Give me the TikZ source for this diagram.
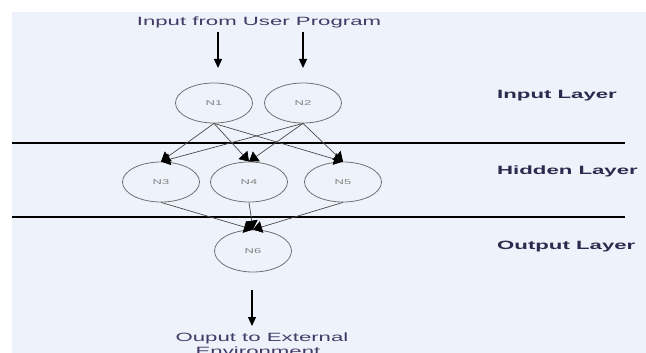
\documentclass[tikz,border=0pt]{standalone}
\usepackage{fontspec}
\usepackage{graphicx}
\setmainfont{Liberation Sans}
\usetikzlibrary{shapes.geometric,arrows.meta}
\definecolor{bgblue}{HTML}{EEF3FB}
\definecolor{titletext}{HTML}{443A66}
\definecolor{layertext}{HTML}{2E2A4E}
\definecolor{ringgray}{HTML}{707070}
\definecolor{edgegray}{HTML}{4A4A4A}
\newcommand\hstretch[1]{\scalebox{1.85}[1]{#1}}
\tikzset{
  neuron/.style={ellipse, draw=ringgray, line width=0.8pt, minimum width=77pt, minimum height=40pt, inner sep=0pt,
    font=\fontsize{7}{8}\selectfont, text=gray},
  caption/.style={inner sep=0pt, font=\fontsize{12}{14}\selectfont, text=titletext},
  layerlabel/.style={inner sep=0pt, anchor=base west, font=\fontsize{12}{14}\selectfont\bfseries, text=layertext},
  bigarrow/.style={line width=1.3pt, -{Triangle[width=8pt,length=9pt]}},
  link/.style={draw=edgegray, line width=0.7pt, -{Triangle[width=12pt,length=9pt,color=black]}},
  divider/.style={line width=1.6pt, black}
}
\begin{document}
\begin{tikzpicture}[x=1pt,y=-1pt]
\useasboundingbox (0,0) rectangle (646,353);
\clip (0,0) rectangle (646,353);
\fill[white] (0,0) rectangle (646,353);
\fill[bgblue] (12,12) rectangle (646,353);

% dividers
\coordinate (l1a) at (12,143);
\coordinate (l1b) at (625,143);
\coordinate (l2a) at (12,217);
\coordinate (l2b) at (625,217);
\draw[divider] (l1a) -- (l1b);
\draw[divider] (l2a) -- (l2b);

% title and input arrows
\node[caption, anchor=base] (title) at (259,26) {\hstretch{Input from User Program}};
\coordinate (a1s) at (218,32);
\coordinate (a1e) at (218,68);
\coordinate (a2s) at (303,32);
\coordinate (a2e) at (303,68);
\draw[bigarrow] (a1s) -- (a1e);
\draw[bigarrow] (a2s) -- (a2e);

% neurons
\node[neuron] (n1) at (214,103) {\hstretch{N1}};
\node[neuron] (n2) at (303,103) {\hstretch{N2}};
\node[neuron] (n3) at (161,182) {\hstretch{N3}};
\node[neuron] (n4) at (249,182) {\hstretch{N4}};
\node[neuron] (n5) at (343,182) {\hstretch{N5}};
\node[neuron, minimum height=42pt] (n6) at (253,251) {\hstretch{N6}};

% connections
\foreach \s in {n1,n2}{
  \foreach \t in {n3,n4,n5}{
    \draw[link] (\s.south) -- (\t.north);
  }
}
\foreach \s in {n3,n4,n5}{
  \draw[link] (\s.south) -- (n6.north);
}

% output arrow and text
\coordinate (o1) at (252,290);
\coordinate (o2) at (252,326);
\draw[bigarrow] (o1) -- (o2);
\node[caption, anchor=base] (out1) at (262,341) {\hstretch{Ouput to External}};
\node[caption, anchor=base] (out2) at (258,355) {\hstretch{Environment}};

% layer labels
\node[layerlabel] (lin) at (497,99) {\hstretch{Input Layer}};
\node[layerlabel] (lhid) at (497,174) {\hstretch{Hidden Layer}};
\node[layerlabel] (lout) at (497,249) {\hstretch{Output Layer}};
\end{tikzpicture}
\end{document}
